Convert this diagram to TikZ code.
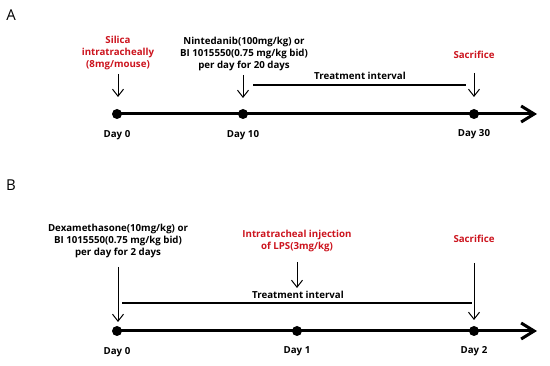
\documentclass[tikz,border=0pt]{standalone}
\usepackage{fontspec}
\setmainfont{Open Sans}
\usetikzlibrary{arrows.meta}
\definecolor{myred}{RGB}{204,20,30}
\begin{document}
\begin{tikzpicture}[x=1pt,y=-1pt,
  txt/.style={font=\bfseries\fontsize{9.7}{11.6}\selectfont, align=center, inner sep=0pt},
  redtxt/.style={txt, text=myred},
  panel/.style={font=\fontsize{15}{17}\selectfont, inner sep=0pt},
  dot/.style={circle, fill=black, inner sep=0pt, minimum size=10pt},
  axisline/.style={line width=3pt, -{Straight Barb[length=13pt,width=16pt,line width=3pt]}},
  smallarrow/.style={line width=1pt, -{Straight Barb[length=7pt,width=11pt,line width=1pt]}},
  tline/.style={line width=1.5pt}]
\useasboundingbox (0,0) rectangle (550,366);

% ---------- Panel A ----------
\node[panel] (labA) at (11,15) {A};
\node[dot] (a0) at (117,114) {};
\node[dot] (a10) at (243,114) {};
\node[dot] (a30) at (474,114) {};
\coordinate (aend) at (537,114);
\draw[axisline] (a0.center) -- (aend);

\node[txt] (da0) at (117,135) {Day 0};
\node[txt] (da10) at (243,135) {Day 10};
\node[txt] (da30) at (474,134) {Day 30};

\node[redtxt] (silica) at (118,53) {Silica\\intratracheally\\(8mg/mouse)};
\node[txt] (ninte) at (244,54) {Nintedanib(100mg/kg) or\\BI 1015550(0.75 mg/kg bid)\\per day for 20 days};
\node[redtxt] (sacA) at (474,55) {Sacrifice};

\coordinate (sa0) at (118,74); \coordinate (ea0) at (118,97);
\coordinate (sa10) at (243,75); \coordinate (ea10) at (243,98);
\coordinate (sa30) at (474,73); \coordinate (ea30) at (474,97);
\draw[smallarrow] (sa0) -- (ea0);
\draw[smallarrow] (sa10) -- (ea10);
\draw[smallarrow] (sa30) -- (ea30);

\coordinate (tA1) at (253,85); \coordinate (tA2) at (466,85);
\draw[tline] (tA1) -- (tA2);
\node[txt] (treatA) at (360,76) {Treatment interval};

% ---------- Panel B ----------
\node[panel] (labB) at (11,185) {B};
\node[dot] (b0) at (117,331) {};
\node[dot] (b1) at (297,331) {};
\node[dot] (b2) at (474,331) {};
\coordinate (bend) at (537,331);
\draw[axisline] (b0.center) -- (bend);

\node[txt] (db0) at (117,352) {Day 0};
\node[txt] (db1) at (297,351) {Day 1};
\node[txt] (db2) at (474,351) {Day 2};

\node[txt] (dexa) at (118,241) {Dexamethasone(10mg/kg) or\\BI 1015550(0.75 mg/kg bid)\\per day for 2 days};
\node[redtxt] (lps) at (297,241) {Intratracheal injection\\of LPS(3mg/kg)};
\node[redtxt] (sacB) at (474,239) {Sacrifice};

\coordinate (sb0) at (118,267); \coordinate (eb0) at (118,322);
\coordinate (sb1) at (297,262); \coordinate (eb1) at (297,288);
\coordinate (sb2) at (474,263); \coordinate (eb2) at (474,320);
\draw[smallarrow] (sb0) -- (eb0);
\draw[smallarrow] (sb1) -- (eb1);
\draw[smallarrow] (sb2) -- (eb2);

\coordinate (tB1) at (122,303); \coordinate (tB2) at (472,303);
\draw[tline] (tB1) -- (tB2);
\node[txt] (treatB) at (298,295) {Treatment interval};
\end{tikzpicture}
\end{document}
